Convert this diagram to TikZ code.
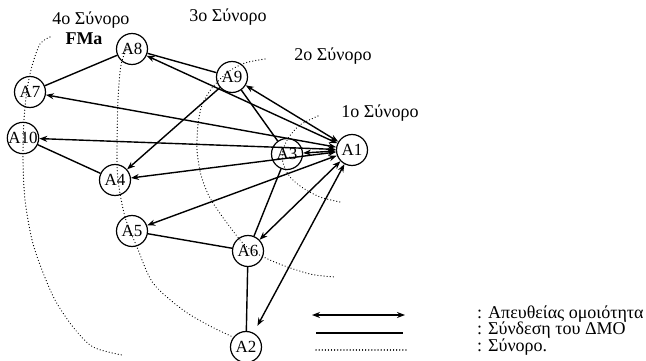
\documentclass[tikz,border=0pt]{standalone}
\usepackage{fontspec}
\setmainfont{Liberation Serif}
\usetikzlibrary{arrows.meta}
\begin{document}
\begin{tikzpicture}[x=1pt,y=-1pt,
  every node/.style={inner sep=0pt},
  st/.style={circle,draw,line width=1.2pt,minimum size=31pt,font=\fontsize{17}{17}\selectfont},
  sim/.style={<->,line width=1.4pt},
  dmo/.style={line width=1.4pt},
  bnd/.style={line width=1.2pt,dash pattern=on 0.1pt off 3pt,line cap=round},
  lbl/.style={font=\fontsize{18}{18}\selectfont},
  leg/.style={font=\fontsize{18}{18}\selectfont,anchor=base west,text height=11pt,text depth=3pt},
  >={Stealth[length=8pt,width=6pt]}]
\fill[white] (0,0) rectangle (646,361);
\useasboundingbox (0,0) rectangle (646,361);

% boundaries
\draw[bnd] plot[smooth] coordinates {(318,116) (300,125) (289,137) (283,150) (283,163) (290,177) (303,188) (320,197) (340,202)};
\draw[bnd] plot[smooth] coordinates {(265,59) (245,63) (228,72) (212,88) (202,105) (198,125) (197,150) (201,175) (210,198) (227,223) (248,248) (277,263) (310,274) (335,277)};
\draw[bnd] plot[smooth] coordinates {(128,45) (121,65) (118,100) (117,150) (118,180) (125,217) (137,247) (153,283) (183,310) (210,326) (233,337)};
\draw[bnd] plot[smooth] coordinates {(50,37) (40,44) (32,66) (27,90) (24,120) (23,160) (25,200) (32,240) (42,270) (55,300) (73,327) (93,347) (122,355)};

% nodes
\node[st] (A8) at (132,49) {A8};
\node[st] (A9) at (232,77) {A9};
\node[st] (A7) at (30,92) {A7};
\node[st] (A10) at (23,138) {A10};
\node[st] (A1) at (352,150) {A1};
\node[st] (A3) at (287,154) {A3};
\node[st] (A4) at (115,180) {A4};
\node[st] (A5) at (132,231) {A5};
\node[st] (A6) at (248,251) {A6};
\node[st] (A2) at (246,347) {A2};

% direct similarity
\foreach \n in {A9,A8,A7,A10,A4,A5,A6,A3} \draw[sim] (A1) -- (\n);
\draw[sim,shorten >=8pt] (A1) -- (A2);

% DMO links
\draw[dmo] (A8) -- (A9);
\draw[dmo] (A8) -- (A7);
\draw[dmo] (A10) -- (A4);
\draw[dmo,->] (A9) -- (A4);
\draw[dmo] (A9) -- (A3);
\draw[dmo] (A3) -- (A6);
\draw[dmo] (A6) -- (A5);
\draw[dmo] (A6) -- (A2);

% boundary labels
\node[lbl] (b4) at (91,20) {4o Σύνορο};
\node[font=\bfseries\fontsize{18}{18}\selectfont] (fma) at (84,39) {FMa};
\node[lbl] (b3) at (228,17) {3o Σύνορο};
\node[lbl] (b2) at (333,56) {2o Σύνορο};
\node[lbl] (b1) at (380,113) {1o Σύνορο};

% legend
\coordinate (L1a) at (312,315); \coordinate (L1b) at (405,315);
\coordinate (L2a) at (316,333); \coordinate (L2b) at (403,333);
\coordinate (L3a) at (316,350); \coordinate (L3b) at (406,350);
\draw[sim] (L1a) -- (L1b);
\draw[dmo] (L2a) -- (L2b);
\draw[bnd] (L3a) -- (L3b);
\node[leg] (t1) at (477,318) {: Απευθείας ομοιότητα};
\node[leg] (t2) at (477,334.5) {: Σύνδεση του ΔΜΟ};
\node[leg] (t3) at (477,351) {: Σύνορο.};
\end{tikzpicture}
\end{document}
